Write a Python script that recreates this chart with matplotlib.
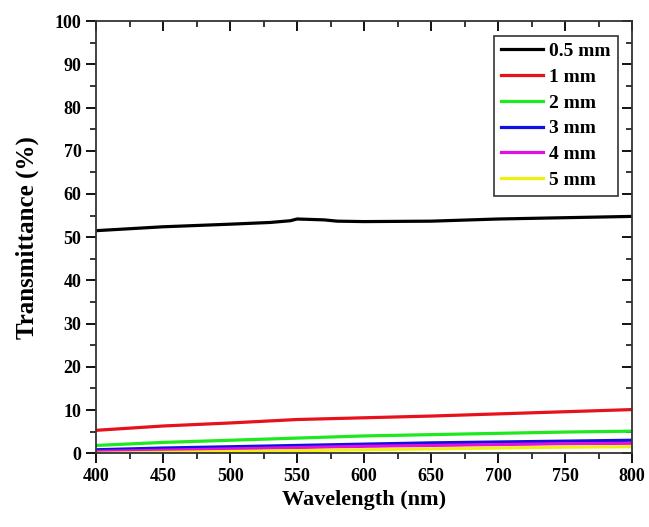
import matplotlib
matplotlib.use('Agg')
import matplotlib.pyplot as plt
from matplotlib.ticker import MultipleLocator

plt.rcParams['font.family'] = ['Liberation Serif', 'DejaVu Serif']
plt.rcParams['font.weight'] = 'bold'

# Data
labels = ['0.5 mm', '1 mm', '2 mm', '3 mm', '4 mm', '5 mm']
colors = ['#000000', '#e8101a', '#1ee81e', '#1010e0', '#e010e0', '#f0f010']

wl_black = [400, 450, 500, 530, 545, 550, 570, 580, 600, 650, 700, 750, 800]
t_black = [51.5, 52.4, 53.0, 53.4, 53.8, 54.2, 54.0, 53.7, 53.6, 53.7, 54.2, 54.5, 54.8]

wl = [400, 450, 500, 550, 600, 650, 700, 750, 800]
t_1mm = [5.3, 6.3, 7.0, 7.8, 8.2, 8.6, 9.1, 9.6, 10.1]
t_2mm = [1.8, 2.5, 3.0, 3.5, 4.0, 4.3, 4.6, 4.9, 5.1]
t_3mm = [0.8, 1.2, 1.5, 1.8, 2.1, 2.4, 2.6, 2.8, 3.0]
t_4mm = [0.4, 0.7, 1.0, 1.3, 1.6, 1.8, 2.0, 2.2, 2.3]
t_5mm = [0.0, 0.2, 0.4, 0.6, 0.8, 1.0, 1.2, 1.4, 1.5]

fig = plt.figure(figsize=(6.49, 5.27), dpi=100)
ax = fig.add_axes([0.148, 0.140, 0.826, 0.820])

ax.plot(wl_black, t_black, color=colors[0], lw=2.3, label=labels[0])
for series, c, lab in zip([t_1mm, t_2mm, t_3mm, t_4mm, t_5mm], colors[1:], labels[1:]):
    ax.plot(wl, series, color=c, lw=2.3, label=lab)

ax.set_xlim(400, 800)
ax.set_ylim(0, 100)
ax.xaxis.set_major_locator(MultipleLocator(50))
ax.xaxis.set_minor_locator(MultipleLocator(25))
ax.yaxis.set_major_locator(MultipleLocator(10))
ax.yaxis.set_minor_locator(MultipleLocator(5))

for s in ax.spines.values():
    s.set_linewidth(1.3)
    s.set_color('#333333')

ax.tick_params(which='major', length=7, width=1.3, labelsize=13, direction='out')
ax.tick_params(which='minor', length=4, width=1.1, direction='out')
# top / right ticks point inward
ax.tick_params(which='both', top=True, right=True)
for t in ax.xaxis.get_major_ticks() + ax.xaxis.get_minor_ticks():
    t.tick2line.set_marker(3)
for t in ax.yaxis.get_major_ticks() + ax.yaxis.get_minor_ticks():
    t.tick2line.set_marker(0)

ax.set_xlabel('Wavelength (nm)', fontsize=16, fontweight='bold', labelpad=4)
ax.set_ylabel('Transmittance (%)', fontsize=18, fontweight='bold', labelpad=11)

leg = ax.legend(loc='upper right', fontsize=14, frameon=True, fancybox=False,
                handlelength=2.2, handletextpad=0.3, borderpad=0.35,
                labelspacing=0.42, borderaxespad=0.75)
leg.get_frame().set_edgecolor('black')
leg.get_frame().set_linewidth(1.2)

fig.savefig('out.png', dpi=100)
